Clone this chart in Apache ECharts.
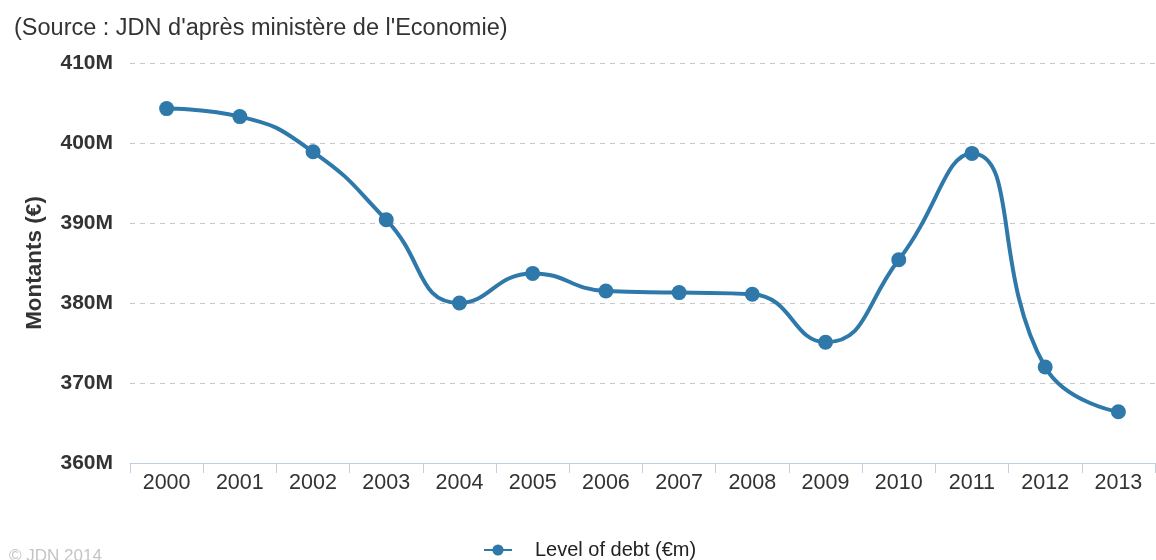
<!DOCTYPE html>
<html>
<head>
<meta charset="utf-8">
<script src="https://cdn.jsdelivr.net/npm/echarts@6/dist/echarts.min.js"></script>
<style>
html,body{margin:0;padding:0;background:#fff;}
#c{width:1156px;height:560px;}
</style>
</head>
<body>
<div id="c"></div>
<script>
const categories = ['2000','2001','2002','2003','2004','2005','2006','2007','2008','2009','2010','2011','2012','2013'];
const debtValues = [404.3, 403.3, 398.9, 390.4, 380.0, 383.7, 381.5, 381.3, 381.1, 375.1, 385.4, 398.7, 372.0, 366.4];
const seriesName = 'Level of debt (€m)';
const yTicks = [360, 370, 380, 390, 400, 410];

const chart = echarts.init(document.getElementById('c'), null, {renderer:'canvas'});
const color = '#2e79a9';
const ff = 'Liberation Sans, Arial, Helvetica';
chart.setOption({
  animation: false,
  backgroundColor: '#fff',
  title: [{
    text: "(Source : JDN d'après ministère de l'Economie)",
    left: 9, top: 12,
    textStyle: {fontFamily: ff, fontSize: 23.5, fontWeight: 'normal', color: '#333'}
  }, {
    text: '© JDN 2014',
    left: 4, top: 543,
    textStyle: {fontFamily: ff, fontSize: 17, fontWeight: 'normal', color: '#c4c4c4'}
  }],
  legend: {
    data: [seriesName],
    left: 478, top: 535,
    itemWidth: 28, itemHeight: 14,
    itemGap: 10,
    textStyle: {fontFamily: ff, fontSize: 20, color: '#222', padding: [0,0,0,18]}
  },
  grid: {left: 130, right: 1, top: 63, bottom: 97},
  xAxis: {
    type: 'category',
    data: categories,
    boundaryGap: true,
    axisLine: {show: true, lineStyle: {color: '#c0d0e0', width: 1}},
    axisTick: {show: true, length: 10, lineStyle: {color: '#c0d0e0'}},
    axisLabel: {fontFamily: ff, fontSize: 21.5, color: '#333', margin: 9},
    splitLine: {show: false}
  },
  yAxis: {
    type: 'value',
    min: yTicks[0], max: yTicks[yTicks.length-1], interval: 10,
    name: 'Montants (€)',
    nameLocation: 'middle',
    nameGap: 84,
    nameRotate: 90,
    nameTextStyle: {fontFamily: ff, fontSize: 22.5, fontWeight: 'bold', color: '#333'},
    axisLine: {show: false},
    axisTick: {show: false},
    axisLabel: {
      fontFamily: ff, fontSize: 21, fontWeight: 'bold', color: '#333', margin: 17,
      formatter: v => v + 'M'
    },
    splitLine: {show: true, lineStyle: {color: '#c8c8c8', type: [5, 5], width: 1}}
  },
  series: [{
    name: seriesName,
    type: 'line',
    data: debtValues,
    smooth: 0.5,
    symbol: 'circle',
    symbolSize: 15,
    lineStyle: {color: color, width: 4},
    itemStyle: {color: color}
  }]
});
</script>
</body>
</html>
